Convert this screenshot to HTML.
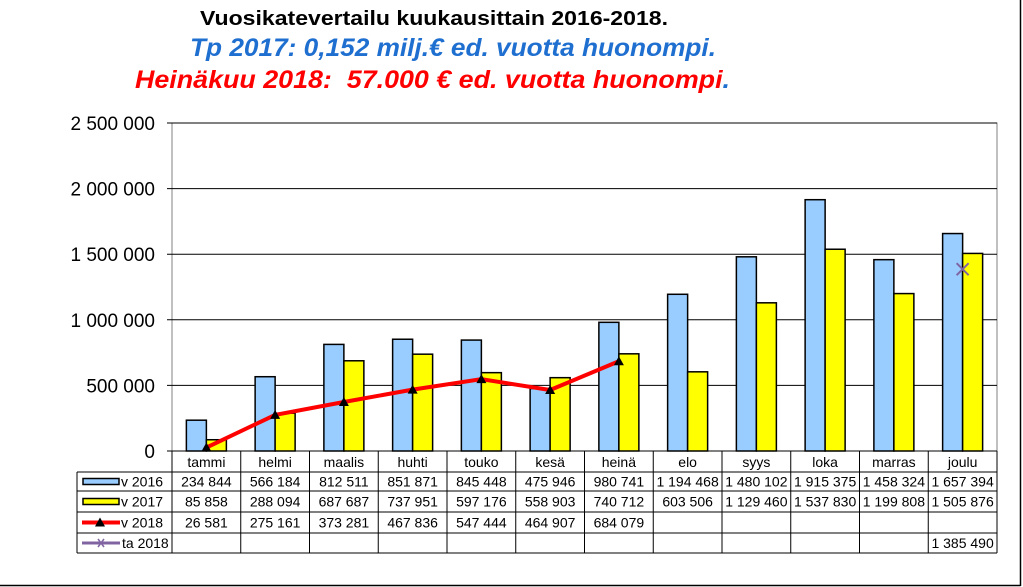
<!DOCTYPE html>
<html><head><meta charset="utf-8"><style>
html,body{margin:0;padding:0;background:#fff;}
svg{display:block;font-family:"Liberation Sans",Arial,sans-serif;}
</style></head><body>
<svg id="chart" width="1023" height="587" viewBox="0 0 1023 587" xmlns="http://www.w3.org/2000/svg">
<line x1="0" y1="585.5" x2="1020.5" y2="585.5" stroke="#000" stroke-width="1.5"/>
<line x1="1020.5" y1="0" x2="1020.5" y2="586" stroke="#000" stroke-width="1.5"/>
<text x="200" y="25" textLength="468" lengthAdjust="spacingAndGlyphs" font-size="20" font-weight="bold">Vuosikatevertailu kuukausittain 2016-2018.</text>
<text x="190" y="56" textLength="526" lengthAdjust="spacingAndGlyphs" font-size="25" font-weight="bold" font-style="italic" fill="#1f6fd0">Tp 2017: 0,152 milj.€ ed. vuotta huonompi.</text>
<text x="135" y="88" textLength="595" lengthAdjust="spacingAndGlyphs" font-size="25" font-weight="bold" font-style="italic" fill="#ff0000">Heinäkuu 2018:&#160; 57.000 € ed. vuotta huonompi<tspan fill="#1f6fd0">.</tspan></text>
<rect x="172" y="123" width="825" height="328" fill="none" stroke="#808080"/>
<g id="grid"></g><g id="bars"></g><g id="lines"></g><g id="table"></g>
</svg>
<script>
const categories=["tammi","helmi","maalis","huhti","touko","kesä","heinä","elo","syys","loka","marras","joulu"];
const v2016=[234844,566184,812511,851871,845448,475946,980741,1194468,1480102,1915375,1458324,1657394];
const v2017=[85858,288094,687687,737951,597176,558903,740712,603506,1129460,1537830,1199808,1505876];
const v2018=[26581,275161,373281,467836,547444,464907,684079];
const ta2018=[null,null,null,null,null,null,null,null,null,null,null,1385490];
const yTicks=[0,500000,1000000,1500000,2000000,2500000];
const NS="http://www.w3.org/2000/svg";
const X0=172,X1=997,Y0=451,Y1=123,YMAX=2500000;
const cw=(X1-X0)/categories.length;
const y=v=>Y0-(v/YMAX)*(Y0-Y1);
const xc=i=>X0+cw*(i+0.5);
const fmt=v=>v==null?"":String(v).replace(/\B(?=(\d{3})+(?!\d))/g," ");
function mk(tag,attrs,parent,txt){const e=document.createElementNS(NS,tag);for(const k in attrs)e.setAttribute(k,attrs[k]);if(txt!=null)e.textContent=txt;parent.appendChild(e);return e;}
const grid=document.getElementById('grid');
yTicks.forEach(t=>{
  const l=mk('line',{x1:X0-5,x2:X1,y1:y(t),y2:y(t),stroke:'#000','stroke-width':1},grid);
  
  
  const tx=mk('text',{x:155,y:y(t)+7,'text-anchor':'end','font-size':19},grid,fmt(t));
  
  
});
const bars=document.getElementById('bars');
categories.forEach((c,i)=>{
  const b1=mk('rect',{x:xc(i)-20,y:y(v2016[i]),width:20,height:Y0-y(v2016[i]),fill:'#99ccff',stroke:'#000','stroke-width':1.5},bars);
  
  
  const b2=mk('rect',{x:xc(i),y:y(v2017[i]),width:20,height:Y0-y(v2017[i]),fill:'#ffff00',stroke:'#000','stroke-width':1.5},bars);
  
  
});
const lines=document.getElementById('lines');
const pl=mk('polyline',{points:v2018.map((v,i)=>xc(i)+','+y(v)).join(' '),fill:'none',stroke:'#ff0000','stroke-width':4},lines);


v2018.forEach((v,i)=>{
  const m=mk('polygon',{points:`${xc(i)},${y(v)-5} ${xc(i)-5},${y(v)+4} ${xc(i)+5},${y(v)+4}`,fill:'#000'},lines);
  
  
});
ta2018.forEach((v,i)=>{if(v==null)return;const px=xc(i),py=y(v);
  const g=mk('path',{d:`M${px-6},${py-6}L${px+6},${py+6}M${px-6},${py+6}L${px+6},${py-6}`,stroke:'#8064a2','stroke-width':2},lines);
  
  
});
const tb=document.getElementById('table');
const rows=[451,472,491,512,533,553];
const TL=77;
const series=[v2016,v2017,v2018,ta2018];
const names=["v 2016","v 2017","v 2018","ta 2018"];
for(let i=0;i<=categories.length;i++){const x=X0+cw*i;mk('line',{x1:x,x2:x,y1:451,y2:553,stroke:'#000'},tb);}
mk('line',{x1:TL,x2:TL,y1:472,y2:553,stroke:'#000'},tb);
for(let r=1;r<rows.length;r++)mk('line',{x1:TL,x2:X1,y1:rows[r],y2:rows[r],stroke:'#000'},tb);
categories.forEach((c,i)=>{
  const t=mk('text',{x:xc(i),y:467,'text-anchor':'middle','font-size':14},tb,c);
  
  
});
series.forEach((s,r)=>{
  const cy=(rows[r+1]+rows[r+2])/2+5;
  s.forEach((v,i)=>{if(v==null)return;
    const t=mk('text',{x:xc(i),y:cy,'text-anchor':'middle','font-size':14},tb,fmt(v));
    
    
  });
  const mid=(rows[r+1]+rows[r+2])/2;
  if(r<2){mk('rect',{x:83,y:mid-3,width:36,height:6,fill:r==0?'#99ccff':'#ffff00',stroke:'#000','stroke-width':1.5},tb);}
  else if(r==2){mk('line',{x1:82,x2:120,y1:mid,y2:mid,stroke:'#ff0000','stroke-width':4},tb);mk('polygon',{points:`100,${mid-5} 95,${mid+4} 105,${mid+4}`,fill:'#000'},tb);}
  else{mk('line',{x1:82,x2:120,y1:mid,y2:mid,stroke:'#8064a2','stroke-width':3},tb);mk('path',{d:`M98,${mid-4}L104,${mid+4}M98,${mid+4}L104,${mid-4}`,stroke:'#8064a2','stroke-width':1.5},tb);}
  const t=mk('text',{x:r==3?122:121,y:cy,'font-size':14},tb,names[r]);
  
  
});
</script>
</body></html>
